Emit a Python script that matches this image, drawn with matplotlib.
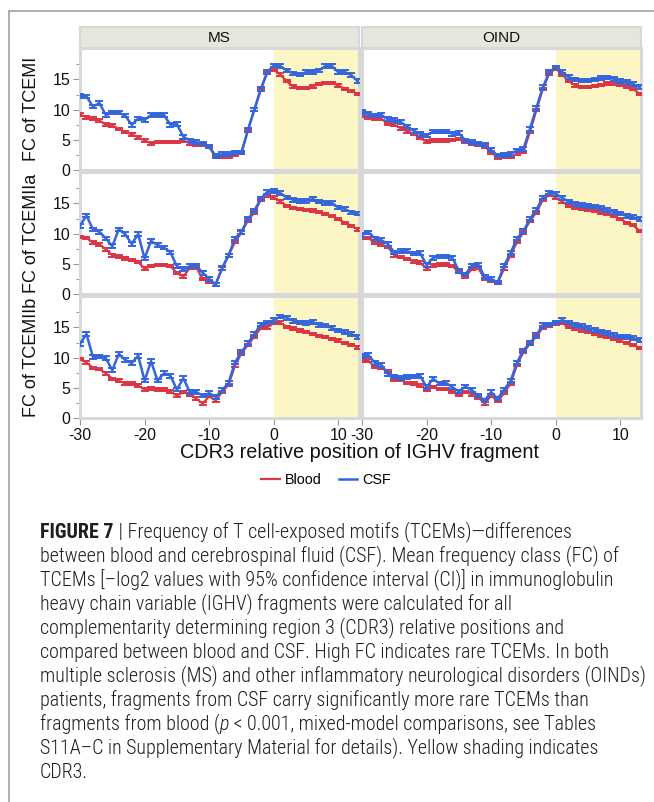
import matplotlib
matplotlib.use("Agg")
import matplotlib.pyplot as plt
from matplotlib import font_manager
from matplotlib.lines import Line2D

# CDR3 relative position of the IGHV fragment
positions = list(range(-30, 14))

# mean FC values (-30 .. 13)
ms_i_blood = [9.2, 8.7, 8.5, 8.2, 7.5, 7.4, 6.8, 6.3, 5.9, 5.4,
              4.9, 4.4, 4.6, 4.6, 4.6, 4.6, 4.9, 4.4, 4.2, 4.2,
              3.8, 2.2, 2.2, 2.2, 2.5, 2.8, 6.6, 10.0, 13.4, 16.2,
              16.6, 15.8, 14.7, 13.8, 13.6, 13.6, 13.8, 14.2, 14.4, 14.4, 14.0, 13.4, 13.1, 12.6]
ms_i_csf = [12.3, 12.2, 10.5, 11.1, 9.1, 9.5, 9.5, 9.0, 7.5, 8.5,
            8.3, 9.1, 9.1, 9.1, 7.5, 7.6, 5.5, 4.9, 4.6, 4.4,
            3.9, 2.3, 2.6, 2.6, 2.9, 2.9, 6.6, 10.0, 13.4, 16.2,
            17.3, 17.2, 16.5, 16.0, 15.8, 16.2, 16.2, 16.5, 17.2, 17.2, 16.2, 16.2, 15.7, 14.7]
oind_i_blood = [9.0, 8.6, 8.5, 8.5, 7.6, 7.5, 6.9, 6.4, 6.0, 5.3,
                4.7, 4.9, 4.9, 4.9, 5.0, 5.1, 4.6, 4.3, 4.2, 3.9,
                2.9, 2.1, 2.2, 2.2, 2.7, 3.0, 6.3, 9.9, 13.4, 16.0,
                16.8, 15.8, 14.7, 14.0, 13.7, 13.7, 13.9, 14.1, 14.3, 14.3, 14.1, 13.8, 13.4, 12.6]
oind_i_csf = [9.6, 9.3, 9.0, 9.1, 8.4, 8.3, 7.9, 7.2, 6.5, 6.0,
              5.7, 6.4, 6.4, 6.4, 6.0, 6.1, 4.9, 4.6, 4.4, 4.1,
              3.3, 2.4, 2.5, 2.7, 3.2, 3.5, 6.8, 10.3, 13.7, 16.2,
              17.0, 16.2, 15.4, 15.0, 14.8, 14.8, 15.0, 15.2, 15.3, 15.1, 14.7, 14.6, 14.2, 13.7]

ms_iia_blood = [9.4, 9.3, 8.5, 8.2, 7.4, 6.4, 6.2, 5.9, 5.6, 5.3,
                4.2, 4.6, 4.8, 4.8, 4.6, 3.5, 2.9, 4.3, 4.4, 2.5,
                2.1, 1.6, 4.2, 6.4, 8.6, 10.2, 12.2, 13.5, 15.6, 16.3,
                16.0, 15.3, 14.6, 14.2, 14.1, 13.9, 13.8, 13.6, 13.2, 12.9, 12.4, 11.8, 11.3, 10.7]
ms_iia_csf = [11.3, 13.0, 10.7, 10.3, 9.2, 7.9, 10.7, 9.9, 8.3, 9.9,
              5.9, 8.8, 8.1, 7.7, 6.9, 4.6, 4.1, 4.6, 4.7, 3.5,
              2.5, 1.6, 4.3, 6.4, 9.2, 10.3, 12.4, 13.8, 15.8, 16.9,
              17.1, 16.7, 16.0, 15.6, 15.4, 15.4, 15.7, 15.3, 15.1, 15.1, 14.3, 14.1, 13.5, 13.3]
oind_iia_blood = [9.3, 9.3, 8.4, 8.2, 7.8, 6.4, 6.1, 5.8, 5.4, 5.2,
                  4.2, 4.7, 4.9, 4.9, 4.6, 3.6, 2.9, 4.1, 4.3, 2.5,
                  2.2, 1.8, 4.2, 6.4, 8.6, 10.2, 12.1, 13.5, 15.6, 16.4,
                  16.0, 15.3, 14.6, 14.2, 14.1, 13.9, 13.8, 13.5, 13.2, 12.9, 12.4, 11.8, 11.4, 10.4]
oind_iia_csf = [9.8, 10.2, 9.2, 8.9, 8.3, 6.9, 7.1, 7.1, 6.7, 6.8,
                4.8, 6.0, 6.2, 6.2, 6.0, 3.8, 3.2, 4.7, 4.9, 2.8,
                2.5, 1.9, 4.7, 6.8, 9.2, 10.4, 12.4, 13.9, 16.0, 16.8,
                16.6, 15.9, 15.3, 14.9, 14.7, 14.6, 14.5, 14.2, 13.9, 13.6, 13.3, 12.9, 12.7, 12.4]

ms_iib_blood = [9.8, 9.2, 8.3, 8.1, 7.4, 6.5, 6.2, 5.7, 5.7, 5.4,
                4.7, 4.9, 4.7, 4.7, 4.4, 3.7, 4.3, 3.9, 3.2, 2.4,
                3.6, 2.9, 4.3, 5.5, 8.7, 10.7, 12.1, 13.5, 14.9, 15.0,
                15.7, 15.8, 15.1, 14.8, 14.5, 14.2, 13.9, 13.6, 13.4, 13.1, 12.8, 12.4, 12.1, 11.7]
ms_iib_csf = [12.3, 13.9, 10.1, 10.2, 9.9, 7.9, 10.6, 9.6, 9.1, 10.3,
              6.2, 9.4, 6.2, 7.4, 7.0, 4.7, 6.6, 4.3, 4.3, 3.7,
              4.1, 3.5, 4.6, 5.8, 9.2, 10.9, 12.4, 13.9, 15.5, 15.8,
              16.2, 16.8, 16.6, 16.1, 15.8, 15.7, 15.9, 15.4, 15.3, 14.9, 14.5, 14.2, 13.9, 13.4]
oind_iib_blood = [9.5, 9.5, 8.4, 8.3, 7.7, 6.3, 6.3, 5.8, 5.7, 5.4,
                  4.7, 5.1, 4.8, 4.8, 4.3, 3.8, 4.3, 3.9, 3.4, 2.4,
                  3.7, 2.8, 4.1, 5.7, 8.8, 10.9, 12.3, 13.5, 15.0, 15.2,
                  15.6, 15.7, 15.1, 14.8, 14.5, 14.2, 13.9, 13.6, 13.4, 13.1, 12.8, 12.4, 12.1, 11.6]
oind_iib_csf = [10.3, 10.4, 9.1, 8.8, 7.3, 6.9, 6.6, 6.8, 6.9, 7.0,
                5.1, 6.5, 5.7, 5.8, 5.1, 4.4, 5.2, 4.6, 3.7, 2.9,
                4.3, 3.2, 4.7, 6.1, 9.2, 11.2, 12.4, 13.7, 15.4, 15.5,
                15.8, 16.2, 15.8, 15.4, 15.2, 14.9, 14.6, 14.3, 14.1, 13.7, 13.5, 13.4, 13.2, 12.9]

# half width of the 95% CI (roughly constant in the picture)
blood_ci = 0.2
csf_ci = 0.3

groups = ["MS", "OIND"]
motifs = ["TCEMI", "TCEMIIa", "TCEMIIb"]
panels = {
    ("MS", "TCEMI"): (ms_i_blood, ms_i_csf),
    ("OIND", "TCEMI"): (oind_i_blood, oind_i_csf),
    ("MS", "TCEMIIa"): (ms_iia_blood, ms_iia_csf),
    ("OIND", "TCEMIIa"): (oind_iia_blood, oind_iia_csf),
    ("MS", "TCEMIIb"): (ms_iib_blood, ms_iib_csf),
    ("OIND", "TCEMIIb"): (oind_iib_blood, oind_iib_csf),
}

caption_lines = [
    [("FIGURE 7", "bold"), (" | Frequency of T cell-exposed motifs (TCEMs)\u2014differences", "normal")],
    [("between blood and cerebrospinal fluid (CSF). Mean frequency class (FC) of", "normal")],
    [("TCEMs [\u2013log2 values with 95% confidence interval (CI)] in immunoglobulin", "normal")],
    [("heavy chain variable (IGHV) fragments were calculated for all", "normal")],
    [("complementarity determining region 3 (CDR3) relative positions and", "normal")],
    [("compared between blood and CSF. High FC indicates rare TCEMs. In both", "normal")],
    [("multiple sclerosis (MS) and other inflammatory neurological disorders (OINDs)", "normal")],
    [("patients, fragments from CSF carry significantly more rare TCEMs than", "normal")],
    [("fragments from blood (", "normal"), ("p", "italic"),
     (" < 0.001, mixed-model comparisons, see Tables", "normal")],
    [("S11A\u2013C in Supplementary Material for details). Yellow shading indicates", "normal")],
    [("CDR3.", "normal")],
]

RED = "#dc3545"
BLUE = "#3366dd"
SHADE = "#fbf6c4"
FRAME = "#d8d8d8"

plt.rcParams["font.family"] = ["Liberation Sans", "DejaVu Sans"]
plt.rcParams["axes.unicode_minus"] = False

W, H = 654, 802
fig = plt.figure(figsize=(W / 100, H / 100), dpi=100)


def fx(px):
    return px / W


def fy(py):
    return 1 - py / H


col_left = [80, 362]
col_w = 279
row_top = [48, 172, 296]
row_h = 122

for r, motif in enumerate(motifs):
    for c, grp in enumerate(groups):
        blood, csf = panels[(grp, motif)]
        ax = fig.add_axes([fx(col_left[c]), fy(row_top[r] + row_h), col_w / W, row_h / H])
        ax.axvspan(0, 13.5, color=SHADE, lw=0, zorder=0)
        ax.errorbar(positions, blood, yerr=blood_ci, color=RED, lw=1.6,
                    elinewidth=1, capsize=2.8, capthick=1.4, zorder=3)
        ax.errorbar(positions, csf, yerr=csf_ci, color=BLUE, lw=1.8,
                    elinewidth=1, capsize=2.8, capthick=1.4, zorder=4)
        ax.set_xlim(-30, 13.2)
        ax.set_ylim(0, 20.2)
        for s in ax.spines.values():
            s.set_color(FRAME)
            s.set_linewidth(2.2)
        ax.set_yticks([0, 5, 10, 15])
        ax.set_yticks([2.5, 7.5, 12.5, 17.5], minor=True)
        ax.tick_params(axis="both", which="major", length=5, width=0.8,
                       color="#999999", labelsize=11.5, labelcolor="#111111", pad=2)
        ax.tick_params(axis="y", which="minor", length=3, width=0.8, color="#999999")
        if c == 1:
            ax.tick_params(axis="y", which="both", left=False, labelleft=False)
        if r < 2:
            ax.tick_params(axis="x", which="both", bottom=False, labelbottom=False)
        else:
            ax.set_xticks([-30, -20, -10, 0, 10])
        if c == 0:
            fig.text(fx(31), fy(row_top[r] + row_h / 2), "FC of " + motif, rotation=90,
                     ha="center", va="center", fontsize=13, color="#111111")
        if r == 0:
            sax = fig.add_axes([fx(col_left[c]), fy(48), col_w / W, 21 / H])
            sax.set_facecolor("#e7e6dc")
            sax.set_xticks([])
            sax.set_yticks([])
            for s in sax.spines.values():
                s.set_color(FRAME)
                s.set_linewidth(1.5)
            sax.text(0.5, 0.5, grp, ha="center", va="center", fontsize=11,
                     color="#111111", transform=sax.transAxes)

fig.text(fx(359), fy(453), "CDR3 relative position of IGHV fragment", ha="center",
         va="center", fontsize=14.3, color="#111111")

handles = [Line2D([], [], color=RED, lw=1.6), Line2D([], [], color=BLUE, lw=1.8)]
fig.legend(handles, ["Blood", "CSF"], loc="center", bbox_to_anchor=(fx(326), fy(480)),
           ncol=2, frameon=False, fontsize=10.4, handlelength=1.3, handletextpad=0.3,
           columnspacing=1.2)

# page frame lines (top and left)
fig.add_artist(Line2D([fx(9), fx(654)], [fy(11), fy(11)], color="#a8a8a8", lw=1.3))
fig.add_artist(Line2D([fx(9), fx(9)], [fy(11), fy(802)], color="#a8a8a8", lw=1.3))

# caption: prefer a condensed face when one is installed, then fit to the text column
installed = {f.name for f in font_manager.fontManager.ttflist}
cap_fam = [f for f in ["Roboto Condensed", "Liberation Sans Narrow", "Open Sans Condensed",
                       "Noto Sans Condensed"] if f in installed]
cap_fam += ["Liberation Sans", "DejaVu Sans"]
renderer = fig.canvas.get_renderer()


def draw_caption(size):
    artists = []
    widest = 0
    for i, parts in enumerate(caption_lines):
        x = fx(40)
        y = fy(532 + 24 * i)
        for txt, style in parts:
            t = fig.text(x, y, txt, ha="left", va="center", fontsize=size, color="#1e1e1e",
                         family=cap_fam,
                         fontweight="bold" if style == "bold" else "light",
                         fontstyle="italic" if style == "italic" else "normal")
            artists.append(t)
            x += t.get_window_extent(renderer).width / W
        widest = max(widest, x * W - 40)
    return artists, widest


cap_size = 14.5
arts, widest = draw_caption(cap_size)
if widest > 604:
    for a in arts:
        a.remove()
    draw_caption(cap_size * 604 / widest)

fig.savefig("out.png", dpi=100)
